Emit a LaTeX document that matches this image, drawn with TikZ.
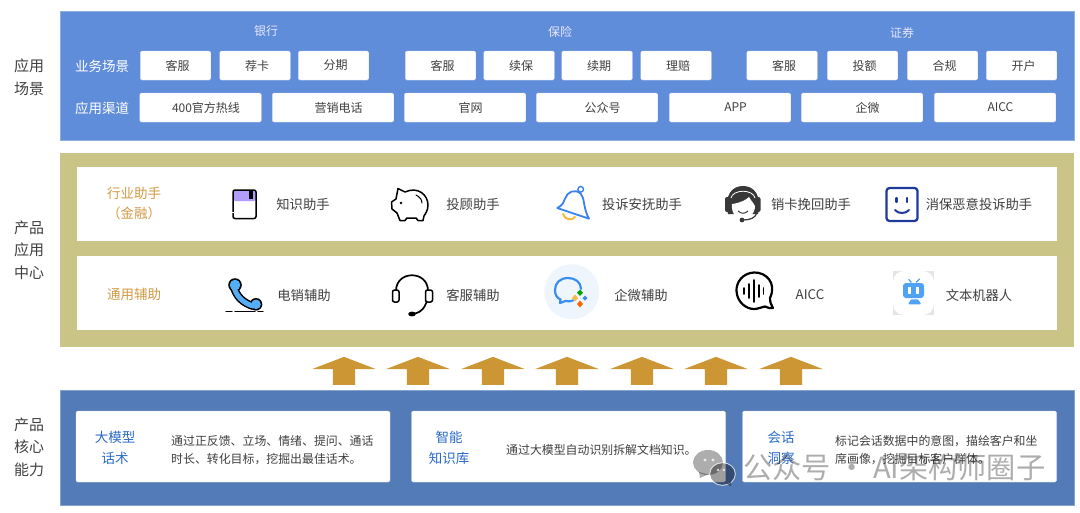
\documentclass[tikz,border=0pt]{standalone}
\usepackage{fontspec}
\setmainfont{Noto Sans CJK SC}
\usetikzlibrary{shapes.arrows}
\definecolor{appblue}{HTML}{5F8DD9}
\definecolor{corblue}{HTML}{527BB7}
\definecolor{midkhaki}{HTML}{CBC487}
\definecolor{tipgold}{HTML}{D29B45}
\definecolor{upgold}{HTML}{CB9633}
\definecolor{inktext}{HTML}{404040}
\definecolor{linkblue}{HTML}{2A6BC9}
\definecolor{bookpurple}{HTML}{B19CFB}
\definecolor{bellblue}{HTML}{3B82F0}
\definecolor{bellyellow}{HTML}{F5B942}
\definecolor{faceblue}{HTML}{1E3A9A}
\definecolor{phoneblue}{HTML}{55AEF5}
\definecolor{wecomback}{HTML}{EEF5FC}
\definecolor{wecomblue}{HTML}{3A8EF0}
\definecolor{robotblue}{HTML}{4FA3F7}
\begin{document}
\begin{tikzpicture}[
    x=1pt, y=-1pt,
    panel/.style={inner sep=0pt, minimum width=1014pt, line width=0.6pt},
    rowbox/.style={fill=white, draw=white, line width=0.4pt, inner sep=0pt, minimum width=979pt, minimum height=73pt},
    sbox/.style={fill=white, draw=white!85!blue, line width=0.4pt, rounded corners=1.5pt, inner sep=0pt, minimum width=70.5pt, minimum height=29pt, text=inktext, font=\fontsize{12}{14}\selectfont, execute at begin node={\hspace*{4pt}}},
    wbox/.style={sbox, minimum width=121.5pt, execute at begin node={\hspace*{7pt}}},
    corbox/.style={fill=white, draw=white!85!blue, line width=0.4pt, rounded corners=1.5pt, inner sep=0pt, minimum width=314pt, minimum height=71pt},
    sidelab/.style={align=center, text=inktext, font=\fontsize{15}{22.5}\selectfont},
    headlab/.style={text=white!90!blue, font=\fontsize{12}{14}\selectfont},
    rowlab/.style={text=white, font=\fontsize{13.5}{16}\selectfont},
    tiplab/.style={align=center, text=tipgold, font=\fontsize{13.5}{20}\selectfont},
    itemlab/.style={text=inktext, font=\fontsize{13.3}{16}\selectfont},
    corlab/.style={align=center, text=linkblue, font=\fontsize{13.5}{21}\selectfont},
    desclab/.style={anchor=west, align=left, text=inktext, font=\fontsize{11.9}{18}\selectfont},
    uparrow/.style={single arrow, fill=upgold, draw=none, shape border rotate=90, inner sep=0pt, minimum height=28pt, minimum width=63pt, single arrow head extend=20.5pt, single arrow tip angle=138},
    icon/.style={draw=black, line width=1.5pt, line join=round, line cap=round},
]
\useasboundingbox (0,0) rectangle (1080,512);

% Three main panels
\node[panel, fill=appblue, draw=appblue!70!white, minimum height=129pt] (apppanel) at (567,75.5) {};
\node[panel, fill=midkhaki, minimum height=194pt] (midpanel) at (567,250) {};
\node[panel, fill=corblue, draw=corblue!70!white, minimum height=115pt] (corpanel) at (567,447.5) {};

% Side labels
\node[sidelab] (applab) at (29,77) {应用\\场景};
\node[sidelab] (midlab) at (29,250) {产品\\应用\\中心};
\node[sidelab] (corlab) at (29,447) {产品\\核心\\能力};

% Top panel headings
\node[headlab] (bankhead) at (266,31) {银行};
\node[headlab] (inshead) at (560,32) {保险};
\node[headlab] (sechead) at (902,33) {证券};
\node[rowlab] (scenelab) at (102,66) {业务场景};
\node[rowlab] (chanlab) at (102,108) {应用渠道};

% Business scenes
\node[sbox] (bank1) at (175.5,65.5) {客服};
\node[sbox] (bank2) at (255,65.5) {荐卡};
\node[sbox] (bank3) at (333.5,65.5) {分期};
\node[sbox] (ins1) at (440.5,65.5) {客服};
\node[sbox] (ins2) at (519,65.5) {续保};
\node[sbox] (ins3) at (597,65.5) {续期};
\node[sbox] (ins4) at (676,65.5) {理赔};
\node[sbox] (sec1) at (782,65.5) {客服};
\node[sbox] (sec2) at (862.5,65.5) {投额};
\node[sbox] (sec3) at (942.5,65.5) {合规};
\node[sbox] (sec4) at (1021.5,65.5) {开户};

% Channels
\node[wbox] (chan1) at (200.5,107.5) {400官方热线};
\node[wbox] (chan2) at (333,107.5) {营销电话};
\node[wbox] (chan3) at (465,107.5) {官网};
\node[wbox] (chan4) at (597,107.5) {公众号};
\node[wbox] (chan5) at (730,107.5) {APP};
\node[wbox] (chan6) at (862,107.5) {企微};
\node[wbox] (chan7) at (995,107.5) {AICC};

% Middle rows
\node[rowbox] (toprow) at (566.5,203.5) {};
\node[rowbox] (lowrow) at (566.5,292.5) {};
\node[tiplab] (tiplab) at (134,203) {行业助手\\（金融）};
\node[tiplab] (genlab) at (134,294) {通用辅助};

\node[itemlab] (item1) at (303,204) {知识助手};
\node[itemlab] (item2) at (473,204) {投顾助手};
\node[itemlab] (item3) at (642,204) {投诉安抚助手};
\node[itemlab] (item4) at (811,204) {销卡挽回助手};
\node[itemlab] (item5) at (979,204) {消保恶意投诉助手};
\node[itemlab] (item6) at (304,295) {电销辅助};
\node[itemlab] (item7) at (473,295) {客服辅助};
\node[itemlab] (item8) at (641,295) {企微辅助};
\node[itemlab] (item9) at (810,295) {AICC};
\node[itemlab] (item10) at (979,295) {文本机器人};

% Book icon
\fill[bookpurple, rounded corners=2pt] (233,190) -- (256,190) -- (256,201) -- (233,201) -- cycle;
\fill[black] (249,190) rectangle (252.5,199);
\draw[icon, rounded corners=2pt] (233,190) rectangle (256,218.5);
\draw[white, line width=1pt] (232,212) -- (234,212);

% Pig icon
\draw[icon] (398,188.5) -- (405,192) .. controls (418,186) and (428,195) .. (428,205) .. controls (428,211) and (425,214) .. (424,216) -- (423,220.5) -- (418,220.5) -- (416,218) -- (407,218) -- (405,220.5) -- (400,220.5) -- (397,213) -- (392,209) -- (391.5,202) -- (396,199) -- cycle;
\fill (401,203) circle (1.3pt);
\draw[icon, line width=1pt] (416,195) .. controls (420,197) and (422,200) .. (422,203);

% Bell icon
\draw[draw=bellyellow, line width=2pt, line cap=round] (563,214) .. controls (565,220) and (572,221) .. (575,217);
\draw[icon, draw=bellblue, fill=white, line width=1.8pt] (557.3,208) .. controls (563,205) and (564,202) .. (565,198.7) .. controls (567,192) and (575,188) .. (581,194) .. controls (585,199) and (583,208) .. (589,218.7) -- cycle;
\draw[draw=bellblue, fill=white, line width=1.4pt] (580.7,189.3) circle (2.8pt);

% Agent icon
\fill[black!78] (728,214) .. controls (724,195) and (732,186) .. (743,186) .. controls (754,186) and (762,195) .. (758,214) -- cycle;
\fill[black!78, rounded corners=2pt] (725,197) rectangle (731,212);
\fill[black!78, rounded corners=2pt] (755,197) rectangle (760.5,212);
\fill[white] (732,204) .. controls (740,203) and (746,200) .. (749,197) .. controls (751,201) and (754,203) .. (755,206) .. controls (755,214) and (749,219) .. (743,219) .. controls (737,219) and (731,214) .. (732,204) -- cycle;
\draw[white, line width=0.8pt] (731,198) .. controls (733,189) and (753,189) .. (755,198);
\draw[black!78, line width=1pt] (738,211) .. controls (741,214) and (745,214) .. (748,211);
\draw[black!78, line width=1.2pt] (757,212) .. controls (756,218) and (750,220) .. (743,220);
\fill[black!78] (742,220) circle (2.4pt);

% Face icon
\draw[icon, draw=faceblue, line width=2.3pt, rounded corners=3pt] (886.5,188) rectangle (917.5,221);
\draw[icon, draw=faceblue, line width=2.2pt] (896.5,198) -- (896.5,202);
\draw[icon, draw=faceblue, line width=2.2pt] (907,198) -- (907,202);
\draw[icon, draw=faceblue, line width=2pt] (895,210) .. controls (898,214) and (906,214) .. (909,210);

% Phone icon
\fill[black] (235,285) circle (6.8pt);
\fill[black] (256,304.3) circle (6.3pt);
\draw[black, line width=8pt, line cap=round] (234,287) .. controls (236,296) and (243,303) .. (253,306);
\fill[phoneblue] (235,285) circle (5.3pt);
\fill[phoneblue] (256,304.3) circle (4.8pt);
\draw[phoneblue, line width=5pt, line cap=round] (234,287) .. controls (236,296) and (243,303) .. (253,306);
\draw[icon, line width=1.2pt] (226,311.5) -- (232,311.5);
\draw[icon, line width=1.2pt] (235,311.5) -- (255,311.5);
\draw[icon, line width=1.2pt] (258,311.5) -- (263,311.5);

% Headset icon
\draw[icon, line width=1.7pt] (396,291) .. controls (396,270) and (428,270) .. (428,291) .. controls (428,303) and (424,313) .. (412,314);
\draw[icon, fill=white, rounded corners=2pt] (392.5,290) rectangle (399,302);
\draw[icon, fill=white, rounded corners=2pt] (425.5,290) rectangle (432.5,302);
\fill (412,314) ellipse (3.8pt and 2.4pt);

% Wecom icon
\fill[wecomback] (571.7,291.7) circle (27.5pt);
\draw[draw=wecomblue, line width=2.2pt, line join=round, line cap=round] (581,289) .. controls (581,282) and (575,278) .. (568,278) .. controls (560,278) and (555,283) .. (555,290) .. controls (555,295) and (557,298) .. (560.5,299.5) -- (560,303) -- (565.5,301) .. controls (568,301.5) and (571,301.5) .. (573,300.5);
\fill[green!65!black] (580,289.5) -- (583,292.7) -- (580,296) -- (577,292.7) -- cycle;
\fill[wecomblue] (585,295.5) -- (587.5,298) -- (585,300.5) -- (582.5,298) -- cycle;
\fill[orange!80!red] (580,300.5) -- (583,304) -- (580,307.5) -- (577,304) -- cycle;
\fill[bellyellow] (575,294.5) -- (578,298) -- (575,301.5) -- (572,298) -- cycle;

% Sound bubble icon
\draw[icon, line width=2.2pt] (770,298) .. controls (777,283) and (766,272) .. (754,272.5) .. controls (743,273) and (736,282) .. (736.5,291) .. controls (737,302) and (746,309) .. (754,309) .. controls (758,309) and (762,307) .. (765,306.5) .. controls (768,307.5) and (770,309) .. (773,308) .. controls (771,305) and (770,302) .. (770,298) -- cycle;
\draw[icon, line width=1.6pt] (744,288) -- (744,294);
\draw[icon, line width=1.6pt] (748.8,284) -- (748.8,298);
\draw[icon, line width=1.6pt] (754,280) -- (754,302);
\draw[icon, line width=1.6pt] (759,285) -- (759,297);
\draw[icon, line width=1.6pt] (763.5,288) -- (763.5,294);

% Robot icon
\fill[black!10] (893,271) rectangle (934,315);
\fill[white, rounded corners=11pt] (893,271) rectangle (934,315);
\fill[robotblue, rounded corners=3pt] (903,283) rectangle (924,298);
\fill[white] (908,287) rectangle (911,294);
\fill[white] (916,287) rectangle (919,294);
\fill[robotblue, rounded corners=1pt] (908,304.3) -- (911,299.3) -- (918,299.3) -- (921.3,304.3) -- cycle;
\draw[robotblue, line width=1.3pt] (908.7,279.3) -- (911.3,282.5);
\draw[robotblue, line width=1.3pt] (919.7,278.7) -- (916,282.5);

% Up arrows
\node[uparrow] (up1) at (344,373) {\hspace*{22pt}};
\node[uparrow] (up2) at (418,373) {\hspace*{22pt}};
\node[uparrow] (up3) at (493,373) {\hspace*{22pt}};
\node[uparrow] (up4) at (567,373) {\hspace*{22pt}};
\node[uparrow] (up5) at (642,373) {\hspace*{22pt}};
\node[uparrow] (up6) at (716,373) {\hspace*{22pt}};
\node[uparrow] (up7) at (791,373) {\hspace*{22pt}};

% Core capability boxes
\node[corbox] (cor1) at (233,446.5) {};
\node[corbox] (cor2) at (568.5,446.5) {};
\node[corbox] (cor3) at (899.5,446.5) {};
\node[corlab] (corname1) at (115,447.5) {大模型\\话术};
\node[corlab] (corname2) at (449,447.5) {智能\\知识库};
\node[corlab] (corname3) at (781,447.5) {会话\\洞察};
\node[desclab] (cordesc1) at (167.7,450) {通过正反馈、立场、情绪、提问、通话\\时长、转化目标，挖掘出最佳话术。};
\node[desclab] (cordesc2) at (502.7,450) {通过大模型自动识别拆解文档知识。};
\node[desclab] (cordesc3) at (831.7,450) {标记会话数据中的意图，描绘客户和坐\\席画像，挖掘目标客户群体。};

% Watermark
\fill[black, opacity=0.32] (708,462.5) ellipse (15pt and 12.5pt);
\fill[black, opacity=0.32] (699,472) -- (700,478) -- (708,474.5) -- cycle;
\draw[white, opacity=0.7, line width=1pt] (722.5,474) ellipse (12.8pt and 11.3pt);
\fill[black, opacity=0.38] (722.5,474) ellipse (12.3pt and 10.8pt);
\fill[black, opacity=0.38] (727,484) -- (731,486) -- (731,481) -- cycle;
\fill[white, opacity=0.75] (705,460) circle (1.6pt);
\fill[white, opacity=0.75] (713,460) circle (1.6pt);
\fill[white, opacity=0.75] (718,470) circle (1.3pt);
\fill[white, opacity=0.75] (724,470) circle (1.3pt);
\node[anchor=west, inner sep=0pt, text=black, text opacity=0.32, font=\fontsize{29.2}{31}\selectfont] (mark) at (743,467.5) {公众号 · AI架构师圈子};
\end{tikzpicture}
\end{document}
